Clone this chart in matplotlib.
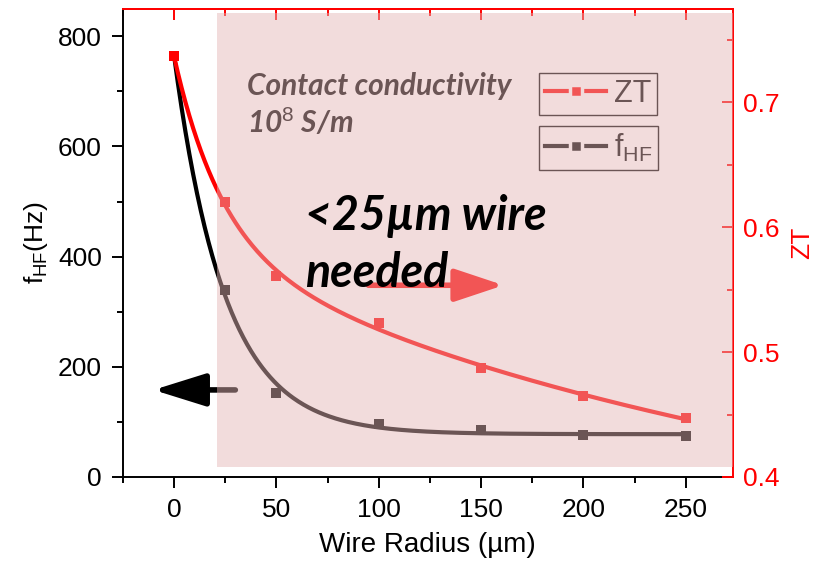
import numpy as np
import matplotlib
matplotlib.use("Agg")
import matplotlib.pyplot as plt
from matplotlib.patches import Rectangle
from matplotlib.lines import Line2D
from matplotlib.ticker import MultipleLocator

plt.rcParams['font.family'] = ['Liberation Sans', 'DejaVu Sans']
plt.rcParams['mathtext.fontset'] = 'custom'
plt.rcParams['mathtext.rm'] = 'Liberation Sans'

# data
radius = [0, 25, 50, 100, 150, 200, 250]          # wire radius (um)
f_hf = [765, 340, 152, 97, 85, 77, 74]            # Hz
zt = [0.737, 0.620, 0.561, 0.523, 0.487, 0.465, 0.447]


def exp_fit(xs, ys, taus_list, n=400):
    # y = y0 + sum A_i*exp(-x/t_i); t_i by grid search, amplitudes by least squares
    xs = np.asarray(xs, float)
    ys = np.asarray(ys, float)
    best = None
    for taus in taus_list:
        M = np.column_stack([np.ones_like(xs)] + [np.exp(-xs / t) for t in taus])
        coef = np.linalg.lstsq(M, ys, rcond=None)[0]
        err = np.sum((M @ coef - ys) ** 2)
        if best is None or err < best[0]:
            best = (err, taus, coef)
    _, taus, coef = best
    xf = np.linspace(xs.min(), xs.max(), n)
    Mf = np.column_stack([np.ones_like(xf)] + [np.exp(-xf / t) for t in taus])
    return xf, Mf @ coef


one = [(t,) for t in np.linspace(2, 400, 4000)]
grid = np.geomspace(3, 2000, 150)
two = [(a, b) for a in grid for b in grid if b > a * 1.5]

fig = plt.figure(figsize=(8.22, 5.64), dpi=100)
ax = fig.add_axes([0.1493, 0.1543, 0.7424, 0.8303])
ax2 = ax.twinx()

bx, by = exp_fit(radius, f_hf, one)
ax.plot(bx, by, color='black', lw=3, solid_capstyle='butt')
ax.plot(radius, f_hf, ls='none', marker='s', ms=7, color='black', mew=0)

zx, zy = exp_fit(radius, zt, two)
ax2.plot(zx, zy, color='red', lw=3, solid_capstyle='butt')
ax2.plot(radius, zt, ls='none', marker='s', ms=7, color='red', mew=0)

ax.set_xlim(-25, 273)
ax.set_ylim(0, 850)
ax2.set_ylim(0.4, 0.775)

ax.xaxis.set_major_locator(MultipleLocator(50))
ax.xaxis.set_minor_locator(MultipleLocator(25))
ax.yaxis.set_major_locator(MultipleLocator(200))
ax.yaxis.set_minor_locator(MultipleLocator(100))
ax2.yaxis.set_major_locator(MultipleLocator(0.1))
ax2.yaxis.set_minor_locator(MultipleLocator(0.05))

for s in ['top', 'right']:
    ax.spines[s].set_visible(False)
for s in ['left', 'bottom']:
    ax.spines[s].set_linewidth(1.4)
    ax2.spines[s].set_visible(False)
for s in ['top', 'right']:
    ax2.spines[s].set_color('red')
    ax2.spines[s].set_linewidth(1.4)

ax.tick_params(axis='both', which='major', direction='out', length=8, width=1.4, labelsize=19, pad=7)
ax.tick_params(axis='both', which='minor', direction='out', length=4, width=1.4)
ax2.tick_params(axis='y', which='major', direction='in', length=8, width=1.4, color='red',
                labelcolor='red', labelsize=19, pad=7)
ax2.tick_params(axis='y', which='minor', direction='in', length=4, width=1.4, color='red')

top = ax.secondary_xaxis('top')
top.xaxis.set_major_locator(MultipleLocator(50))
top.xaxis.set_minor_locator(MultipleLocator(25))
top.tick_params(which='major', direction='in', length=8, width=1.4, color='red', labeltop=False)
top.tick_params(which='minor', direction='in', length=5, width=1.4, color='red')
top.spines['top'].set_color('red')
top.spines['top'].set_linewidth(1.4)

ax.set_xlabel('Wire Radius (\u00b5m)', fontsize=20, labelpad=7)
ax.set_ylabel(r'$\mathregular{f_{HF}(Hz)}$', fontsize=19, labelpad=6)
ax2.set_ylabel('ZT', fontsize=19, color='red', labelpad=8)

# legends (sit under the shaded overlay)
h_zt = Line2D([], [], color='red', lw=3, marker='s', ms=8, mec='white', mew=2.5)
h_hf = Line2D([], [], color='black', lw=3, marker='s', ms=8, mec='white', mew=2.5)
leg_kw = dict(fontsize=22, frameon=True, fancybox=False, framealpha=1, edgecolor='black',
              borderpad=0.2, handlelength=2.0, handletextpad=0.25, borderaxespad=0,
              loc='upper left', bbox_transform=fig.transFigure)
leg1 = ax2.legend([h_zt], ['ZT'], bbox_to_anchor=(0.6557, 0.8706), **leg_kw)
leg1.get_frame().set_linewidth(1.0)
leg1.set_zorder(3)
ax2.add_artist(leg1)
leg2 = ax2.legend([h_hf], [r'$\mathregular{f_{HF}}$'], bbox_to_anchor=(0.6557, 0.7766), **leg_kw)
leg2.get_frame().set_linewidth(1.0)
leg2.set_zorder(3)

ax2.text(0.300, 0.832, 'Contact conductivity', transform=fig.transFigure, fontsize=21.5,
         family=['Lato', 'DejaVu Sans'], weight='bold', style='italic', color='black', zorder=3)
ax2.text(0.300, 0.764, r'10$^{8}$ S/m', transform=fig.transFigure, fontsize=21.5,
         family=['Lato', 'DejaVu Sans'], weight='bold', style='italic', color='black', zorder=3)

# arrows
ax2.annotate('', xy=(-10, 158), xytext=(30, 158), xycoords=ax.transData, textcoords=ax.transData,
             arrowprops=dict(arrowstyle='-|>,head_length=1.6,head_width=0.5', lw=4, color='black',
                             mutation_scale=20, shrinkA=0, shrinkB=0), zorder=3)
ax2.annotate('', xy=(161, 348), xytext=(95, 348), xycoords=ax.transData, textcoords=ax.transData,
             arrowprops=dict(arrowstyle='-|>,head_length=1.5,head_width=0.5', lw=4, color='red',
                             mutation_scale=20, shrinkA=0, shrinkB=0), zorder=3)

# translucent shaded region on top
ax2.add_patch(Rectangle((21, 18), 273 - 21, 842 - 18, transform=ax.transData,
                        facecolor=(228 / 255, 181 / 255, 181 / 255), alpha=0.47, lw=0, zorder=4))

big = dict(transform=fig.transFigure, fontsize=33.5, family=['Lato', 'DejaVu Sans'],
           weight='bold', style='italic', color='black', zorder=5)
ax2.text(0.371, 0.592, '<25\u00b5m wire', **big)
ax2.text(0.371, 0.491, 'needed', **big)

fig.savefig('out.png', dpi=100)
